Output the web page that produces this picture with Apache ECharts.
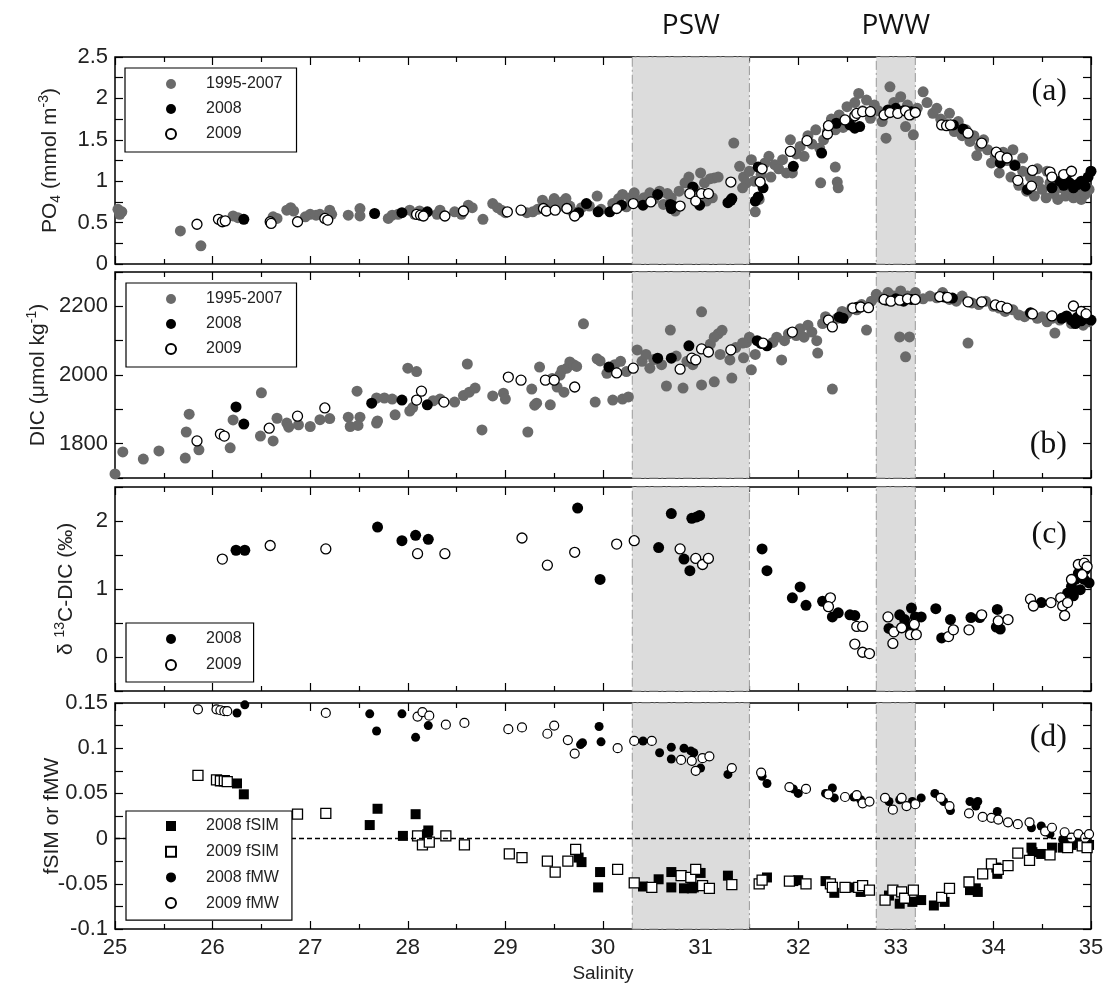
<!DOCTYPE html>
<html>
<head>
<meta charset="utf-8">
<script src="https://cdn.jsdelivr.net/npm/echarts@6/dist/echarts.min.js"></script>
<style>html,body{margin:0;padding:0;background:#fff}#c{width:1106px;height:993px}</style>
</head>
<body>
<div id="c"></div>
<script>
// ---------- DATA (salinity, value) ----------
const po4_hist = [[25.03,0.66],[25.05,0.6],[25.07,0.63],[25.67,0.4],[25.88,0.22],[26.21,0.58],[26.26,0.56],[26.62,0.57],[26.66,0.55],[26.76,0.65],[26.8,0.68],[26.83,0.64],[26.95,0.57],[27.0,0.6],[27.06,0.59],[27.1,0.6],[27.2,0.65],[27.22,0.6],[27.39,0.59],[27.51,0.67],[27.51,0.58],[27.8,0.55],[27.84,0.59],[27.9,0.6],[28.02,0.65],[28.07,0.6],[28.12,0.64],[28.33,0.65],[28.3,0.6],[28.48,0.63],[28.55,0.6],[28.62,0.71],[28.66,0.68],[28.77,0.54],[28.87,0.73],[28.92,0.68],[28.96,0.65],[29.0,0.62],[29.22,0.62],[29.28,0.63],[29.33,0.66],[29.38,0.77],[29.42,0.72],[29.46,0.69],[29.5,0.79],[29.54,0.69],[29.58,0.75],[29.62,0.79],[29.66,0.7],[29.68,0.64],[29.78,0.68],[29.86,0.7],[29.94,0.82],[29.98,0.66],[30.1,0.73],[30.16,0.79],[30.2,0.84],[30.24,0.69],[30.28,0.8],[30.32,0.86],[30.36,0.76],[30.42,0.8],[30.48,0.86],[30.52,0.78],[30.58,0.88],[30.62,0.72],[30.66,0.85],[30.7,0.8],[30.74,0.64],[30.78,0.88],[30.84,0.98],[30.88,1.05],[30.94,0.9],[31.0,1.1],[31.04,0.98],[31.1,1.03],[31.14,1.04],[31.18,1.05],[31.12,0.8],[31.06,0.76],[31.34,1.46],[31.4,1.18],[31.44,1.05],[31.47,0.98],[31.5,1.12],[31.43,0.92],[31.52,1.26],[31.55,1.0],[31.56,0.63],[31.6,0.78],[31.62,1.08],[31.66,1.22],[31.7,1.3],[31.72,1.05],[31.76,1.2],[31.8,1.15],[31.84,1.26],[31.88,1.1],[31.92,1.5],[31.94,1.1],[31.98,1.33],[32.02,1.42],[32.06,1.3],[32.1,1.55],[32.14,1.45],[32.18,1.62],[32.22,1.4],[32.26,1.5],[32.3,1.6],[32.23,0.98],[32.38,1.17],[32.4,0.99],[32.41,0.92],[32.34,1.75],[32.38,1.62],[32.42,1.8],[32.46,1.65],[32.5,1.9],[32.54,1.72],[32.58,1.95],[32.62,2.06],[32.66,1.85],[32.7,1.98],[32.74,1.76],[32.78,1.92],[32.82,1.85],[32.86,1.72],[32.9,1.52],[32.94,2.14],[32.98,1.95],[33.02,1.82],[33.05,2.02],[33.1,1.66],[33.12,1.92],[33.16,1.8],[33.18,1.56],[33.22,1.88],[33.28,2.08],[33.32,1.95],[33.38,1.82],[33.42,1.88],[33.46,1.75],[33.5,1.7],[33.55,1.82],[33.6,1.6],[33.64,1.72],[33.68,1.55],[33.72,1.62],[33.76,1.48],[33.8,1.55],[33.83,1.31],[33.86,1.42],[33.9,1.5],[33.94,1.38],[33.98,1.22],[34.02,1.3],[34.06,1.1],[34.1,1.35],[34.14,1.25],[34.18,1.05],[34.22,1.2],[34.26,0.95],[34.3,1.12],[34.34,0.88],[34.38,1.05],[34.42,0.82],[34.46,1.0],[34.5,0.9],[34.54,0.8],[34.58,0.98],[34.62,0.85],[34.66,0.78],[34.7,0.92],[34.74,0.82],[34.78,0.88],[34.82,0.8],[34.86,0.86],[34.9,0.78],[34.94,0.84],[34.98,0.9],[34.2,1.38],[34.3,1.28],[34.45,1.15],[34.55,1.12]];
const po4_2008 = [[26.32,0.54],[27.66,0.61],[27.94,0.62],[28.2,0.63],[29.75,0.62],[29.83,0.73],[29.95,0.63],[30.07,0.63],[30.19,0.71],[30.41,0.71],[30.56,0.84],[30.69,0.72],[30.7,0.67],[30.72,0.7],[30.92,0.93],[30.99,0.71],[31.28,0.74],[31.31,0.77],[31.32,0.79],[31.59,1.17],[31.59,0.81],[31.56,0.76],[31.64,0.92],[31.95,1.18],[32.24,1.34],[32.39,1.7],[32.53,1.68],[32.58,1.64],[32.63,1.66],[32.92,1.86],[33.0,1.88],[33.08,1.85],[33.16,1.84],[33.59,1.68],[33.69,1.63],[34.07,1.22],[34.22,1.19],[34.35,0.9],[34.6,0.92],[34.68,1.0],[34.72,0.95],[34.78,0.98],[34.82,0.92],[34.86,0.96],[34.9,1.0],[34.94,0.94],[34.97,1.05],[35.0,1.12],[34.75,1.08]];
const po4_2009 = [[25.84,0.48],[26.06,0.54],[26.1,0.51],[26.13,0.52],[26.59,0.51],[26.6,0.49],[26.87,0.51],[27.15,0.55],[27.18,0.53],[28.09,0.6],[28.13,0.59],[28.16,0.58],[28.38,0.58],[28.57,0.64],[29.02,0.63],[29.16,0.65],[29.39,0.67],[29.42,0.64],[29.51,0.65],[29.63,0.67],[29.71,0.58],[30.14,0.67],[30.31,0.73],[30.49,0.75],[30.79,0.7],[30.89,0.85],[30.95,0.76],[31.01,0.85],[31.08,0.85],[31.31,0.99],[31.63,1.15],[31.61,0.99],[31.92,1.36],[32.09,1.49],[32.3,1.57],[32.31,1.67],[32.48,1.74],[32.58,1.79],[32.6,1.82],[32.66,1.84],[32.74,1.84],[32.88,1.8],[32.94,1.83],[33.02,1.82],[33.1,1.85],[33.14,1.8],[33.2,1.83],[33.47,1.68],[33.52,1.67],[33.56,1.68],[33.74,1.58],[33.88,1.46],[34.03,1.35],[34.07,1.3],[34.14,1.28],[34.25,1.01],[34.39,0.94],[34.4,1.13],[34.58,1.11],[34.6,1.05],[34.72,1.08],[34.8,1.12]];

const dic_hist = [[25.0,1712],[25.08,1776],[25.29,1755],[25.45,1779],[25.72,1758],[25.73,1834],[25.76,1886],[25.86,1782],[26.18,1788],[26.21,1869],[26.5,1948],[26.49,1822],[26.62,1808],[26.66,1874],[26.76,1860],[26.78,1848],[26.88,1855],[27.0,1850],[27.1,1870],[27.2,1873],[27.39,1877],[27.41,1850],[27.48,1953],[27.51,1877],[27.49,1853],[27.68,1933],[27.68,1860],[27.69,1866],[27.76,1933],[27.84,1930],[27.87,1884],[28.0,2020],[28.09,2010],[28.02,1895],[28.05,1905],[28.26,1925],[28.33,1930],[28.48,1921],[28.57,1940],[28.63,1950],[28.69,1962],[28.61,2032],[28.76,1840],[28.87,1939],[28.98,1947],[29.0,1930],[29.23,1834],[29.27,1959],[29.3,1912],[29.32,1918],[29.35,2023],[29.46,1913],[29.48,1990],[29.53,1965],[29.56,2000],[29.58,2014],[29.6,1950],[29.63,2020],[29.66,2038],[29.7,2030],[29.73,2025],[29.8,2149],[29.92,1921],[29.94,2047],[29.97,2041],[30.1,1927],[30.2,1930],[30.26,1936],[30.04,2005],[30.12,2030],[30.18,2040],[30.24,2010],[30.35,2073],[30.4,2040],[30.48,2020],[30.44,2060],[30.52,2045],[30.6,2030],[30.65,1968],[30.69,2131],[30.75,2055],[30.82,1962],[30.86,2040],[30.92,2030],[31.01,2184],[31.01,1971],[31.14,1980],[31.1,2090],[31.14,2110],[31.18,2120],[31.22,2130],[31.2,2060],[31.3,2044],[31.32,1991],[31.36,2080],[31.44,2050],[31.47,2095],[31.5,2110],[31.43,2093],[31.52,2015],[31.56,2060],[31.74,2095],[31.78,2110],[31.83,2044],[31.86,2100],[31.9,2120],[31.98,2115],[32.02,2135],[32.06,2110],[32.1,2145],[32.14,2125],[32.19,2100],[32.2,2064],[32.25,2150],[32.28,2170],[32.35,1959],[32.4,2165],[32.45,2185],[32.5,2180],[32.55,2195],[32.6,2190],[32.7,2131],[32.65,2205],[32.75,2215],[32.8,2235],[32.85,2225],[32.92,2240],[32.98,2230],[33.04,2111],[33.14,2111],[33.1,2053],[33.05,2245],[33.12,2230],[33.2,2240],[33.28,2222],[33.35,2230],[33.42,2225],[33.48,2240],[33.55,2220],[33.62,2215],[33.68,2230],[33.74,2093],[33.78,2210],[33.85,2205],[33.92,2215],[34.0,2200],[34.06,2195],[34.12,2185],[34.2,2190],[34.26,2175],[34.32,2170],[34.38,2180],[34.45,2165],[34.5,2170],[34.55,2155],[34.63,2122],[34.6,2165],[34.68,2160],[34.74,2170],[34.8,2150],[34.86,2160],[34.92,2145],[34.98,2155]];
const dic_2008 = [[26.24,1907],[26.32,1857],[27.63,1918],[27.94,1927],[28.2,1913],[30.06,2023],[30.56,2049],[30.7,2049],[30.88,2085],[31.58,2100],[31.62,2092],[31.68,2085],[32.42,2169],[32.46,2165],[32.6,2197],[32.9,2218],[33.0,2222],[33.08,2215],[33.16,2220],[33.5,2227],[33.58,2224],[34.38,2181],[34.7,2165],[34.75,2172],[34.8,2160],[34.86,2168],[34.9,2158],[34.95,2165],[35.0,2160],[34.84,2150]];
const dic_2009 = [[25.84,1808],[26.08,1828],[26.12,1822],[26.58,1845],[26.87,1880],[27.15,1904],[28.09,1927],[28.14,1953],[28.37,1921],[29.03,1994],[29.16,1985],[29.41,1985],[29.5,1985],[29.71,1965],[30.14,2006],[30.31,2020],[30.79,2017],[30.91,2049],[30.95,2044],[31.01,2076],[31.08,2067],[31.31,2073],[31.64,2093],[31.94,2125],[32.31,2160],[32.35,2140],[32.56,2195],[32.64,2198],[32.72,2196],[32.88,2220],[32.95,2215],[33.04,2218],[33.12,2222],[33.2,2220],[33.45,2228],[33.53,2226],[33.74,2213],[33.88,2213],[34.02,2204],[34.08,2200],[34.14,2195],[34.4,2178],[34.6,2172],[34.82,2201],[34.9,2185],[34.95,2178]];

const d13c_2008 = [[26.24,1.57],[26.33,1.57],[27.69,1.91],[27.94,1.71],[28.08,1.79],[28.21,1.73],[29.74,2.19],[29.97,1.14],[30.57,1.61],[30.7,2.11],[30.91,2.04],[30.96,2.06],[30.99,2.08],[30.83,1.44],[30.89,1.27],[31.63,1.59],[31.68,1.27],[32.02,1.03],[31.94,0.87],[32.08,0.76],[32.25,0.82],[32.35,0.59],[32.41,0.65],[32.53,0.62],[32.58,0.61],[32.93,0.42],[33.04,0.62],[33.09,0.55],[33.16,0.72],[33.2,0.59],[33.26,0.59],[33.11,0.45],[33.18,0.45],[33.41,0.71],[33.56,0.55],[33.47,0.28],[33.77,0.58],[33.86,0.58],[34.04,0.7],[34.03,0.44],[34.07,0.41],[34.49,0.8],[34.76,0.94],[34.8,1.04],[34.84,1.14],[34.87,1.23],[34.91,1.33],[34.94,1.28],[34.93,1.14],[34.89,0.99],[34.98,1.09],[34.82,0.9]];
const d13c_2009 = [[26.1,1.44],[26.59,1.64],[27.16,1.59],[28.1,1.52],[28.38,1.52],[29.17,1.75],[29.43,1.35],[29.71,1.54],[30.14,1.66],[30.32,1.71],[30.79,1.59],[30.95,1.45],[31.02,1.36],[31.08,1.45],[32.33,0.87],[32.31,0.74],[32.6,0.45],[32.66,0.45],[32.58,0.19],[32.66,0.07],[32.73,0.05],[32.92,0.59],[32.97,0.2],[32.98,0.37],[33.06,0.43],[33.15,0.33],[33.21,0.33],[33.19,0.48],[33.54,0.3],[33.59,0.4],[33.75,0.4],[33.88,0.62],[34.05,0.53],[34.15,0.55],[34.38,0.85],[34.41,0.75],[34.59,0.8],[34.69,0.87],[34.71,0.75],[34.73,0.61],[34.87,1.36],[34.93,1.38],[34.96,1.33],[34.76,0.8],[34.8,1.14],[34.91,1.21]];

const fsim_2008 = [[26.25,0.061],[26.32,0.049],[27.61,0.015],[27.69,0.033],[27.95,0.003],[28.08,0.027],[28.21,0.009],[28.2,0.005],[29.75,-0.021],[29.78,-0.026],[29.97,-0.037],[29.95,-0.054],[30.41,-0.053],[30.57,-0.045],[30.7,-0.037],[30.7,-0.054],[30.83,-0.055],[30.91,-0.055],[30.93,-0.054],[31.0,-0.038],[31.28,-0.041],[31.68,-0.043],[31.95,-0.047],[32.0,-0.046],[32.28,-0.047],[32.37,-0.06],[32.57,-0.054],[32.64,-0.059],[32.93,-0.063],[33.04,-0.072],[33.17,-0.07],[33.26,-0.068],[33.39,-0.074],[33.5,-0.07],[33.76,-0.057],[33.84,-0.059],[33.82,-0.055],[34.04,-0.039],[34.03,-0.032],[34.39,-0.01],[34.49,-0.017],[34.4,-0.015],[34.6,-0.01],[34.71,-0.01],[34.8,-0.007],[34.87,-0.005],[34.98,-0.007]];
const fsim_2009 = [[25.85,0.07],[26.04,0.065],[26.08,0.064],[26.12,0.064],[26.15,0.063],[26.87,0.027],[27.16,0.028],[28.1,0.003],[28.15,-0.007],[28.22,-0.004],[28.39,0.003],[28.58,-0.007],[29.04,-0.017],[29.17,-0.021],[29.43,-0.025],[29.51,-0.037],[29.64,-0.025],[29.72,-0.012],[30.15,-0.034],[30.32,-0.049],[30.5,-0.054],[30.8,-0.041],[30.9,-0.043],[30.95,-0.034],[31.02,-0.052],[31.09,-0.055],[31.32,-0.051],[31.6,-0.05],[31.63,-0.046],[31.91,-0.047],[32.08,-0.05],[32.33,-0.05],[32.35,-0.054],[32.48,-0.054],[32.62,-0.054],[32.66,-0.052],[32.73,-0.057],[32.89,-0.068],[32.97,-0.057],[33.06,-0.059],[33.09,-0.066],[33.18,-0.057],[33.47,-0.065],[33.55,-0.055],[33.75,-0.048],[33.89,-0.039],[33.98,-0.028],[34.05,-0.034],[34.15,-0.03],[34.25,-0.016],[34.37,-0.024],[34.58,-0.018],[34.76,-0.01],[34.91,-0.008],[34.96,-0.01]];
const fmw_2008 = [[26.25,0.139],[26.33,0.148],[27.61,0.138],[27.68,0.119],[27.94,0.138],[28.08,0.112],[28.21,0.125],[29.77,0.104],[29.79,0.106],[29.96,0.124],[29.98,0.107],[30.41,0.108],[30.58,0.095],[30.7,0.101],[30.7,0.088],[30.83,0.1],[30.9,0.097],[30.93,0.095],[31.0,0.078],[31.28,0.071],[31.63,0.069],[31.68,0.061],[31.95,0.055],[32.0,0.05],[32.28,0.05],[32.35,0.056],[32.37,0.045],[32.57,0.046],[32.64,0.043],[32.93,0.041],[33.04,0.043],[33.17,0.041],[33.26,0.045],[33.4,0.05],[33.49,0.041],[33.56,0.031],[33.76,0.041],[33.84,0.041],[33.82,0.036],[34.04,0.03],[34.39,0.012],[34.49,0.014],[34.58,0.005],[34.71,-0.001],[34.76,0.001],[34.84,-0.003],[34.91,-0.001],[34.96,-0.004]];
const fmw_2009 = [[25.85,0.143],[26.04,0.143],[26.08,0.142],[26.12,0.141],[26.15,0.141],[27.16,0.139],[28.1,0.135],[28.15,0.14],[28.22,0.136],[28.39,0.126],[28.58,0.128],[29.03,0.121],[29.17,0.123],[29.43,0.116],[29.5,0.125],[29.64,0.109],[29.71,0.094],[30.15,0.1],[30.32,0.108],[30.5,0.108],[30.8,0.087],[30.91,0.086],[30.95,0.075],[31.02,0.089],[31.09,0.091],[31.32,0.078],[31.62,0.073],[31.91,0.057],[32.08,0.055],[32.31,0.049],[32.48,0.046],[32.6,0.048],[32.66,0.039],[32.73,0.041],[32.89,0.045],[32.97,0.032],[33.06,0.045],[33.11,0.036],[33.2,0.038],[33.46,0.045],[33.55,0.036],[33.75,0.028],[33.89,0.024],[33.98,0.023],[34.05,0.021],[34.15,0.018],[34.25,0.016],[34.37,0.018],[34.53,0.008],[34.6,0.012],[34.73,0.007],[34.8,0.001],[34.87,0.005],[34.94,0.001],[34.98,0.005]];

// water-mass bands (salinity ranges) and labels
const bands = [[30.3, 31.5], [32.8, 33.2]];
const bandLabels = ['PSW', 'PWW'];
const bandLabelSal = [30.9, 33.0];
const panelTags = ['(a)', '(b)', '(c)', '(d)'];
const xTicks = {min: 25, max: 35, interval: 1};

// ---------- LAYOUT ----------
const FONT = '"Liberation Sans", Arial, sans-serif';
const L = 115, R = 15;
const panels = [
  {top: 57,  h: 207, min: 0,    max: 2.5,  interval: 0.25, labelStep: 0.5, nameGap: 52},
  {top: 272, h: 206, min: 1700, max: 2300, interval: 100,  labelStep: 200, nameGap: 64},
  {top: 487, h: 204, min: -0.5, max: 2.5,  interval: 0.5,  labelStep: 1,   nameGap: 36},
  {top: 703, h: 226, min: -0.1, max: 0.15, interval: 0.025,labelStep: 0.05,nameGap: 52}
];
const names = [
  '{m|PO}{s|4}{m| (mmol m}{p|-3}{m|)}',
  '{m|DIC (μmol kg}{p|-1}{m|)}',
  '{m|δ }{p|13}{m|C-DIC (‰)}',
  '{m|fSIM or fMW}'
];
const rich = {
  m: {fontSize: 21, fontFamily: FONT, color: '#222'},
  s: {fontSize: 14, fontFamily: FONT, color: '#222', padding: [12, 0, 0, 0]},
  p: {fontSize: 14, fontFamily: FONT, color: '#222', padding: [0, 0, 12, 0]}
};

const tickStyle = {inside: true, length: 8, lineStyle: {color: '#000', width: 1.2}};
const grid = [], xAxis = [], yAxis = [];
panels.forEach((p, i) => {
  grid.push({left: L, right: R, top: p.top, height: p.h, show: true, borderColor: '#000', borderWidth: 1.5,
    backgroundColor: 'transparent', containLabel: false, outerBoundsMode: 'none'});
  ['bottom', 'top'].forEach(pos => {
    const main = (i === 3 && pos === 'bottom');
    xAxis.push({
      gridIndex: i, type: 'value', position: pos, min: xTicks.min, max: xTicks.max, interval: xTicks.interval,
      axisLine: {show: false, onZero: false}, splitLine: {show: false},
      axisTick: tickStyle, minorTick: {show: true, splitNumber: 2, length: 5, lineStyle: {color: '#000', width: 1.2}},
      axisLabel: {show: main, fontSize: 22, fontFamily: FONT, color: '#222', margin: 8},
      name: main ? 'Salinity' : '', nameLocation: 'middle', nameGap: 35, nameMoveOverlap: false,
      nameTextStyle: {fontSize: 19, fontFamily: FONT, color: '#222'}
    });
  });
  ['left', 'right'].forEach(pos => {
    yAxis.push({
      gridIndex: i, type: 'value', position: pos, min: p.min, max: p.max, interval: p.interval,
      axisLine: {show: false, onZero: false}, splitLine: {show: false}, axisTick: tickStyle,
      axisLabel: {
        show: pos === 'left', fontSize: 22, fontFamily: FONT, color: '#222', margin: 7,
        formatter: v => {
          const r = Math.round(v * 1000) / 1000;
          const k = r / p.labelStep;
          return Math.abs(k - Math.round(k)) < 1e-6 ? String(r) : '';
        }
      },
      name: pos === 'left' ? names[i] : '', nameLocation: 'middle', nameRotate: 90, nameGap: p.nameGap,
      nameMoveOverlap: false,
      nameTextStyle: {rich: rich}
    });
  });
});

const markArea = {
  silent: true,
  itemStyle: {color: '#dcdcdc', borderColor: '#9a9a9a', borderWidth: 1, borderType: [9, 3, 2, 3]},
  data: bands.map(b => [{xAxis: b[0]}, {xAxis: b[1]}])
};

function sc(name, data, i, kind, extra) {
  const base = {
    name, type: 'scatter', data, xAxisIndex: i * 2, yAxisIndex: i * 2, silent: true, z: 3
  };
  if (kind === 'gray') Object.assign(base, {symbol: 'circle', symbolSize: 11, itemStyle: {color: '#6a6a6a', opacity: 1}, z: 2});
  if (kind === 'black') Object.assign(base, {symbol: 'circle', symbolSize: 11, itemStyle: {color: '#000', opacity: 1}});
  if (kind === 'open') Object.assign(base, {symbol: 'circle', symbolSize: 10, itemStyle: {color: '#fff', borderColor: '#000', borderWidth: 1.3, opacity: 1}, z: 4});
  if (kind === 'bsq') Object.assign(base, {symbol: 'rect', symbolSize: 10, itemStyle: {color: '#000', opacity: 1}});
  if (kind === 'osq') Object.assign(base, {symbol: 'rect', symbolSize: 10, itemStyle: {color: '#fff', borderColor: '#000', borderWidth: 1.3, opacity: 1}, z: 4});
  if (kind === 'bci') Object.assign(base, {symbol: 'circle', symbolSize: 9, itemStyle: {color: '#000', opacity: 1}});
  if (kind === 'oci') Object.assign(base, {symbol: 'circle', symbolSize: 9, itemStyle: {color: '#fff', borderColor: '#000', borderWidth: 1.2, opacity: 1}, z: 4});
  return Object.assign(base, extra || {});
}

const series = [
  sc('1995-2007', po4_hist, 0, 'gray', {markArea}),
  sc('2008', po4_2008, 0, 'black'),
  sc('2009', po4_2009, 0, 'open'),
  sc('1995-2007', dic_hist, 1, 'gray', {markArea}),
  sc('2008', dic_2008, 1, 'black'),
  sc('2009', dic_2009, 1, 'open'),
  sc('2008', d13c_2008, 2, 'black', {markArea}),
  sc('2009', d13c_2009, 2, 'open'),
  sc('2008 fSIM', fsim_2008, 3, 'bsq', {markArea, markLine: {
    silent: true, symbol: ['none', 'none'], label: {show: false},
    lineStyle: {color: '#000', type: [5, 3], width: 1.3}, data: [{yAxis: 0}]
  }}),
  sc('2009 fSIM', fsim_2009, 3, 'osq'),
  sc('2008 fMW', fmw_2008, 3, 'bci'),
  sc('2009 fMW', fmw_2009, 3, 'oci')
];

// legend: small icon, text pushed right with a fixed-width spacer token
const legBase = {
  orient: 'vertical', itemWidth: 10, itemHeight: 10, selectedMode: false,
  formatter: '{g|\u00a0}{t|{name}}',
  textStyle: {fontSize: 16, fontFamily: FONT, color: '#222', lineHeight: 16,
    rich: {g: {width: 25, fontSize: 16, lineHeight: 16}, t: {fontSize: 16, fontFamily: FONT, color: '#222', lineHeight: 16}}},
  borderColor: '#000', borderWidth: 1.2, backgroundColor: '#fff', z: 10
};
const legend = [
  Object.assign({}, legBase, {data: ['1995-2007', '2008', '2009'], left: 125, top: 68, padding: [8, 14, 10, 40], itemGap: 9}),
  Object.assign({}, legBase, {data: ['1995-2007', '2008', '2009'], left: 126, top: 283, padding: [8, 14, 10, 39], itemGap: 9}),
  Object.assign({}, legBase, {data: ['2008', '2009'], left: 126, top: 623, padding: [8, 12, 9, 39], itemGap: 10}),
  Object.assign({}, legBase, {data: ['2008 fSIM', '2009 fSIM', '2008 fMW', '2009 fMW'], left: 126, top: 811, padding: [7, 13, 9, 39], itemGap: 9.7})
];

const chart = echarts.init(document.getElementById('c'), null, {renderer: 'canvas'});
const tagY = [92, 445, 535, 738];
chart.setOption({
  animation: false, backgroundColor: '#fff',
  grid, xAxis, yAxis, series, legend,
  graphic: []
});
// annotation text positioned through the chart's own x scale
const gfx = [];
bandLabels.forEach((t, k) => {
  const px = chart.convertToPixel({xAxisIndex: 0}, bandLabelSal[k]);
  gfx.push({type: 'text', x: px, y: 26, z: 20, style: {text: t, fontSize: 28, fontFamily: '"Open Sans", sans-serif', fill: '#111', align: 'center', verticalAlign: 'middle'}});
});
panelTags.forEach((t, k) => {
  gfx.push({type: 'text', x: 1067, y: tagY[k], z: 20, style: {text: t, fontSize: 32, fontFamily: '"Liberation Serif", serif', fill: '#111', align: 'right', verticalAlign: 'middle'}});
});
chart.setOption({graphic: gfx});
</script>
</body>
</html>
